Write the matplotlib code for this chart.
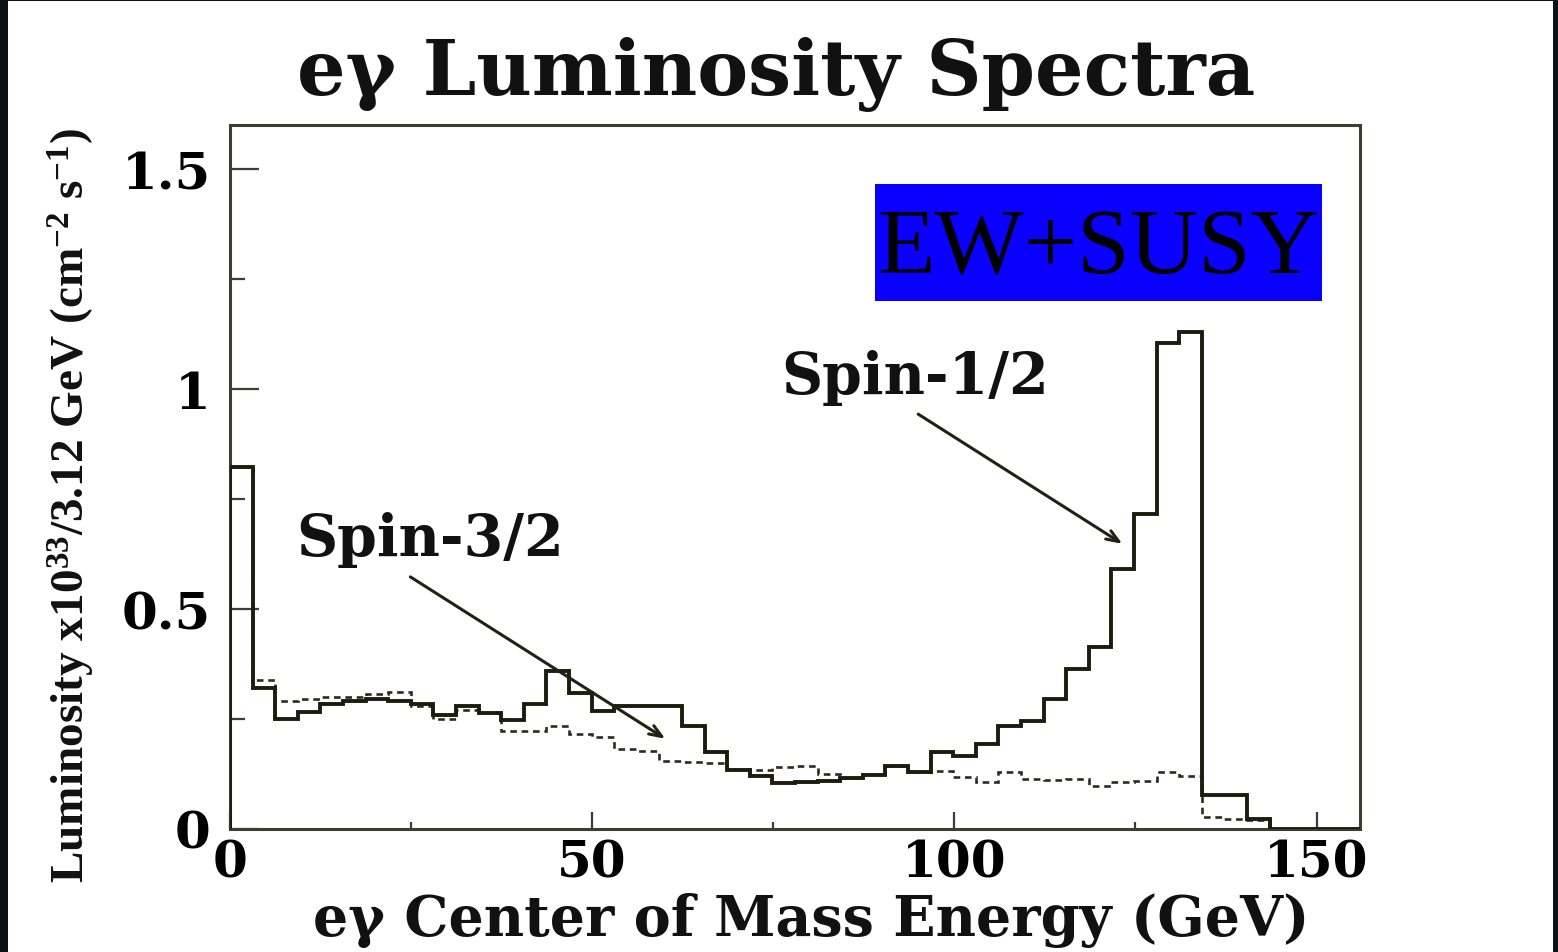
import numpy as np
import matplotlib
matplotlib.use("Agg")
import matplotlib.pyplot as plt
from matplotlib.patches import Rectangle
from matplotlib.ticker import MultipleLocator

# e-gamma luminosity per 3.12 GeV bin, 0 - 156 GeV
bin_width = 3.12
n_bins = 50
edges = np.arange(n_bins + 1) * bin_width

# solid histogram (spin-1/2 selectron case)
spin_half = [0.823, 0.320, 0.250, 0.265, 0.283, 0.290, 0.295, 0.290, 0.285, 0.259,
             0.280, 0.264, 0.248, 0.284, 0.360, 0.309, 0.268, 0.279, 0.279, 0.279,
             0.235, 0.175, 0.135, 0.121, 0.105, 0.107, 0.110, 0.116, 0.123, 0.144,
             0.130, 0.175, 0.167, 0.193, 0.235, 0.246, 0.295, 0.364, 0.414, 0.590,
             0.716, 1.105, 1.130, 0.077, 0.077, 0.023, 0.0, 0.0, 0.0, 0.0]

# dashed histogram (spin-3/2 case)
spin_three_half = [0.823, 0.338, 0.290, 0.295, 0.300, 0.300, 0.307, 0.312, 0.280, 0.250,
                   0.270, 0.264, 0.222, 0.223, 0.235, 0.216, 0.209, 0.182, 0.178, 0.155,
                   0.153, 0.150, 0.136, 0.135, 0.140, 0.143, 0.125, 0.115, 0.125, 0.144,
                   0.130, 0.132, 0.118, 0.107, 0.130, 0.114, 0.111, 0.114, 0.098, 0.106,
                   0.110, 0.130, 0.121, 0.027, 0.023, 0.020, 0.0, 0.0, 0.0, 0.0]

x_ticks = [0, 50, 100, 150]
x_tick_labels = ["0", "50", "100", "150"]
y_ticks = [0, 0.5, 1, 1.5]
y_tick_labels = ["0", "0.5", "1", "1.5"]

plt.rcParams['font.family'] = 'DejaVu Serif'
plt.rcParams['font.weight'] = 'bold'
plt.rcParams['mathtext.fontset'] = 'custom'
plt.rcParams['mathtext.rm'] = 'Liberation Serif:bold'
plt.rcParams['mathtext.it'] = 'Liberation Serif:bold'

frame_c = '#3e3e30'
line_c = '#1c1c0e'

fig = plt.figure(figsize=(15.58, 9.53), dpi=100)
fig.patch.set_facecolor('#0b1117')
fig.add_artist(Rectangle((8 / 1558, 0), (1553 - 8) / 1558, 1 - 2 / 953,
                         transform=fig.transFigure, facecolor='white',
                         edgecolor='none', zorder=0))

ax = fig.add_axes([230 / 1558, 1 - 830 / 953, 1130 / 1558, 704 / 953])
ax.set_facecolor('white')

ax.stairs(spin_three_half, edges, color='#2c2c1e', lw=1.9,
          linestyle=(0, (2.5, 1.8)), baseline=0, zorder=2)
ax.stairs(spin_half, edges, color=line_c, lw=2.8, baseline=0, zorder=3)

ax.set_xlim(0, 156)
ax.set_ylim(0, 1.6)
ax.set_xticks(x_ticks)
ax.set_xticklabels(x_tick_labels)
ax.set_yticks(y_ticks)
ax.set_yticklabels(y_tick_labels)
ax.xaxis.set_minor_locator(MultipleLocator(25))
ax.yaxis.set_minor_locator(MultipleLocator(0.25))

for s in ax.spines.values():
    s.set_color(frame_c)
    s.set_linewidth(2.2)

ax.tick_params(axis='x', which='major', direction='in', length=12, width=1.6,
               color=frame_c, pad=7, labelsize=36)
ax.tick_params(axis='x', which='minor', direction='in', length=5, width=1.6,
               color=frame_c)
ax.tick_params(axis='y', which='major', direction='in', length=21, width=1.6,
               color=frame_c, pad=14, labelsize=37)
ax.tick_params(axis='y', which='minor', direction='in', length=11, width=1.6,
               color=frame_c)

# annotations
ax.text(27.6, 0.659, 'Spin-3/2', ha='center', va='center', fontsize=41, color='#111')
ax.annotate('', xy=(60.1, 0.205), xytext=(24.9, 0.573),
            arrowprops=dict(arrowstyle='->,head_length=0.9,head_width=0.35',
                            lw=2.2, color='#222214', shrinkA=0, shrinkB=0))
ax.text(94.6, 1.027, 'Spin-1/2', ha='center', va='center', fontsize=41, color='#111')
ax.annotate('', xy=(123.2, 0.648), xytext=(95.0, 0.943),
            arrowprops=dict(arrowstyle='->,head_length=0.9,head_width=0.35',
                            lw=2.2, color='#222214', shrinkA=0, shrinkB=0))

# model tag
ax.add_patch(Rectangle((0.571, 0.75), 0.395, 0.166, transform=ax.transAxes,
                       facecolor='#0a00ff', edgecolor='none', zorder=4))
ax.text(0.768, 0.822, 'EW+SUSY', transform=ax.transAxes, ha='center', va='center',
        fontsize=68, family='Liberation Serif', fontweight='normal',
        color='black', zorder=5)

fig.text(776 / 1558, 1 - 75 / 953, 'e\u03b3 Luminosity Spectra', ha='center',
         va='center', fontsize=55, color='#111')
fig.text(811 / 1558, 1 - 921 / 953, 'e\u03b3 Center of Mass Energy (GeV)',
         ha='center', va='center', fontsize=40, color='#111')
fig.text(72 / 1558, 1 - 505 / 953,
         r'Luminosity x10$^{33}$/3.12 GeV (cm$^{-2}$ s$^{-1}$)',
         ha='center', va='center', rotation=90, fontsize=34,
         family='Liberation Serif', color='#111')

fig.savefig('out.png', dpi=100, facecolor=fig.get_facecolor())
